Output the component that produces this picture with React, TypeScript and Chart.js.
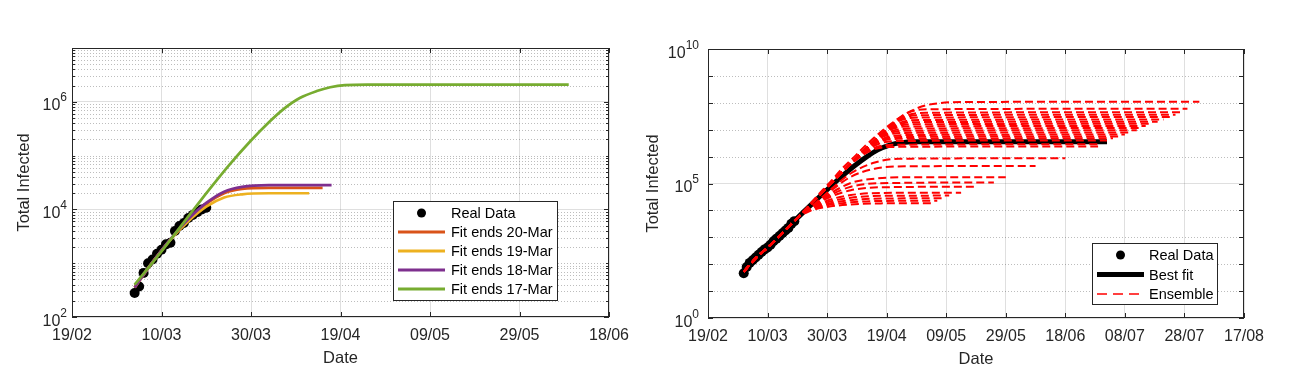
import React, { useEffect, useRef } from 'react';
import { Chart, registerables } from 'chart.js';

Chart.register(...registerables);

type Pt = [number, number];

const FONT = '"Liberation Sans", Arial, Helvetica, sans-serif';
const AXIS_COLOR = '#262626';
const GRID_COLOR = 'rgba(38,38,38,0.15)';
const MINOR_GRID_COLOR = 'rgba(38,38,38,0.30)';

// ---------------- Left panel (values; curves given as [day, log10(value)]) ----------------
const leftXTickDays = [0, 20, 40, 60, 80, 100, 120];
const leftXTickLabels = ['19/02', '10/03', '30/03', '19/04', '09/05', '29/05', '18/06'];
const leftYLabelExponents = [2, 4, 6];
const leftRealDays = [14, 15, 16, 17, 18, 19, 20, 21, 22, 23, 24, 25, 26, 27, 28, 29, 30];
const leftRealValues = [280, 370, 660, 1000, 1170, 1500, 1780, 2240, 2400, 3960, 4900, 5600, 6900, 7900, 8900, 10000, 10700];
const leftFitLabels = ['Fit ends 20-Mar', 'Fit ends 19-Mar', 'Fit ends 18-Mar', 'Fit ends 17-Mar'];
const leftFitColors = ['#D95319', '#EDB120', '#7E2F8E', '#77AC30'];
const fit20MarLog10: Pt[] = [[14, 2.55], [18, 3.02], [22, 3.44], [26, 3.8], [30, 4.1], [34, 4.3], [38, 4.38], [44, 4.4], [56, 4.4]];
const fit19MarLog10: Pt[] = [[14, 2.55], [18, 3.02], [22, 3.44], [26, 3.78], [30, 4.05], [34, 4.22], [38, 4.28], [44, 4.3], [53, 4.3]];
const fit18MarLog10: Pt[] = [[14, 2.55], [18, 3.02], [22, 3.45], [26, 3.82], [30, 4.12], [34, 4.33], [38, 4.42], [44, 4.45], [58, 4.45]];
const fit17MarLog10: Pt[] = [[14, 2.6], [20, 3.22], [28.6, 4.15], [35.3, 4.84], [40, 5.28], [44, 5.62], [47.2, 5.86], [50.9, 6.07], [54.7, 6.2], [57.7, 6.27], [61, 6.31], [66, 6.32], [111, 6.32]];

// ---------------- Right panel ----------------
const rightXTickDays = [0, 20, 40, 60, 80, 100, 120, 140, 160, 180];
const rightXTickLabels = ['19/02', '10/03', '30/03', '19/04', '09/05', '29/05', '18/06', '08/07', '28/07', '17/08'];
const rightYLabelExponents = [0, 5, 10];
const rightRealDays = [12, 13, 14, 15, 16, 17, 18, 19, 20, 21, 22, 23, 24, 25, 26, 27, 28, 29];
const rightRealValues = [46, 79, 112, 141, 178, 224, 282, 355, 417, 525, 708, 891, 1122, 1413, 1778, 2239, 3162, 3981];
const rightLegendLabels = ['Real Data', 'Best fit', 'Ensemble'];
const bestFitLog10: Pt[] = [[12, 1.7], [16, 2.22], [20, 2.62], [24, 3.05], [28, 3.5], [30, 3.72], [33, 4.04], [37, 4.46], [41, 4.87], [45, 5.27], [49, 5.64], [53, 5.97], [57, 6.25], [61, 6.43], [65, 6.52], [70, 6.55], [134, 6.55]];
const ensembleTrunkLog10: Pt[] = [[12, 1.72], [16, 2.22], [20, 2.62], [24, 3.05], [28, 3.5], [30, 3.72]];
const ensembleBranchesLog10: Pt[][] = [
  [[34, 3.97], [40, 4.13], [48, 4.22], [58, 4.26], [75, 4.27]],
  [[34, 3.99], [40, 4.19], [48, 4.3], [58, 4.35], [77, 4.36]],
  [[34, 4.0], [40, 4.24], [48, 4.38], [58, 4.44], [79, 4.45]],
  [[34, 4.01], [40, 4.3], [48, 4.47], [58, 4.54], [81, 4.55]],
  [[34, 4.02], [40, 4.36], [48, 4.57], [58, 4.65], [85, 4.66]],
  [[34, 4.03], [40, 4.45], [48, 4.75], [58, 4.86], [90, 4.88]],
  [[34, 4.04], [40, 4.5], [48, 4.88], [58, 5.01], [96, 5.04]],
  [[34, 4.05], [40, 4.55], [48, 5.02], [56, 5.18], [66, 5.23], [100, 5.23]],
  [[34, 4.05], [40, 4.62], [48, 5.25], [56, 5.55], [66, 5.64], [110, 5.65]],
  [[34, 4.05], [40, 4.66], [48, 5.38], [56, 5.78], [64, 5.92], [120, 5.94]],
  [[49, 5.81], [55, 6.24], [62, 6.36], [131, 6.38]],
  [[50, 5.92], [56, 6.33], [63, 6.44], [132, 6.46]],
  [[51, 6.03], [57, 6.46], [64, 6.58], [134, 6.6]],
  [[51, 6.03], [57, 6.53], [64, 6.66], [136, 6.68]],
  [[52, 6.14], [58, 6.6], [65, 6.73], [138, 6.75]],
  [[53, 6.25], [59, 6.68], [66, 6.8], [140, 6.82]],
  [[53, 6.25], [59, 6.75], [66, 6.88], [142, 6.9]],
  [[54, 6.36], [60, 6.83], [67, 6.96], [144, 6.98]],
  [[55, 6.47], [61, 6.92], [68, 7.04], [145, 7.06]],
  [[55, 6.47], [61, 6.99], [68, 7.12], [147, 7.14]],
  [[56, 6.58], [62, 7.07], [69, 7.2], [149, 7.22]],
  [[57, 6.69], [63, 7.15], [70, 7.28], [151, 7.3]],
  [[58, 6.8], [64, 7.24], [71, 7.36], [153, 7.38]],
  [[58, 6.8], [64, 7.32], [71, 7.45], [156, 7.47]],
  [[59, 6.91], [65, 7.41], [72, 7.54], [157, 7.56]],
  [[60, 7.02], [66, 7.5], [73, 7.63], [159, 7.65]],
  [[61, 7.13], [67, 7.62], [74, 7.76], [161, 7.78]],
  [[33, 4.08], [37, 4.58], [41, 5.05], [45, 5.55], [49, 5.98], [53, 6.42], [57, 6.82], [61, 7.18], [65, 7.5], [69, 7.74], [73, 7.9], [78, 7.99], [85, 8.03], [165, 8.04]],
];

// axis structure helpers
const leftYMinorGrid: number[] = [];
for (let e = 2; e <= 6; e++) for (let m = 2; m <= 9; m++) leftYMinorGrid.push(m * Math.pow(10, e));
leftYMinorGrid.push(1e3, 1e5);
const rightYMinorGrid = [1e1, 1e2, 1e3, 1e4, 1e6, 1e7, 1e8, 1e9];
const rightYDecades = [1, 1e1, 1e2, 1e3, 1e4, 1e5, 1e6, 1e7, 1e8, 1e9, 1e10];

const fromLog = (pts: Pt[]) => pts.map(([d, e]) => ({ x: d, y: Math.pow(10, e) }));

type LegendItem = { label: string; kind: 'dot' | 'line'; color: string; width?: number; dash?: number[] };
type PanelCfg = {
  yMinorGrid: number[];
  yTickMajor: number[];
  yTickMinor: number[];
  xTicks: number[];
  yLabelExps: number[];
  labelGap: number;
  legend: { x: number; y: number; w: number; h: number; rowStart: number; rowStep: number; sx0: number; sx1: number; tx: number; items: LegendItem[] };
};

function makePanelPlugin(cfg: PanelCfg) {
  return {
    id: 'panelDecor',
    beforeDatasetsDraw(chart: any) {
      const { ctx, chartArea: a, scales } = chart;
      ctx.save();
      ctx.beginPath();
      ctx.rect(a.left, a.top, a.right - a.left, a.bottom - a.top);
      ctx.clip();
      ctx.strokeStyle = MINOR_GRID_COLOR;
      ctx.lineWidth = 1;
      ctx.setLineDash([1, 2]);
      for (const v of cfg.yMinorGrid) {
        const py = Math.round(scales.y.getPixelForValue(v)) + 0.5;
        ctx.beginPath();
        ctx.moveTo(a.left, py);
        ctx.lineTo(a.right, py);
        ctx.stroke();
      }
      ctx.restore();
    },
    afterDatasetsDraw(chart: any) {
      const { ctx, chartArea: a, scales } = chart;
      ctx.save();
      ctx.strokeStyle = AXIS_COLOR;
      ctx.lineWidth = 1;
      ctx.setLineDash([]);
      ctx.beginPath();
      for (const v of cfg.xTicks) {
        const px = Math.round(scales.x.getPixelForValue(v)) + 0.5;
        ctx.moveTo(px, a.bottom);
        ctx.lineTo(px, a.bottom - 5);
        ctx.moveTo(px, a.top);
        ctx.lineTo(px, a.top + 5);
      }
      for (const v of cfg.yTickMajor) {
        const py = Math.round(scales.y.getPixelForValue(v)) + 0.5;
        ctx.moveTo(a.left, py);
        ctx.lineTo(a.left + 5, py);
        ctx.moveTo(a.right, py);
        ctx.lineTo(a.right - 5, py);
      }
      for (const v of cfg.yTickMinor) {
        const py = Math.round(scales.y.getPixelForValue(v)) + 0.5;
        ctx.moveTo(a.left, py);
        ctx.lineTo(a.left + 3, py);
        ctx.moveTo(a.right, py);
        ctx.lineTo(a.right - 3, py);
      }
      ctx.stroke();
      ctx.strokeRect(Math.round(a.left) + 0.5, Math.round(a.top) + 0.5, Math.round(a.right - a.left) - 1, Math.round(a.bottom - a.top) - 1);
      const L = cfg.legend;
      ctx.fillStyle = '#ffffff';
      ctx.fillRect(L.x, L.y, L.w, L.h);
      ctx.strokeStyle = AXIS_COLOR;
      ctx.lineWidth = 1;
      ctx.strokeRect(L.x + 0.5, L.y + 0.5, L.w, L.h);
      ctx.font = `14.5px ${FONT}`;
      ctx.textBaseline = 'middle';
      ctx.textAlign = 'left';
      L.items.forEach((it, i) => {
        const cy = L.y + L.rowStart + i * L.rowStep;
        if (it.kind === 'dot') {
          ctx.fillStyle = it.color;
          ctx.beginPath();
          ctx.arc((L.sx0 + L.sx1) / 2, cy, 4.5, 0, Math.PI * 2);
          ctx.fill();
        } else {
          ctx.strokeStyle = it.color;
          ctx.lineWidth = it.width || 2;
          ctx.setLineDash(it.dash || []);
          ctx.beginPath();
          ctx.moveTo(L.sx0, cy);
          ctx.lineTo(L.sx1, cy);
          ctx.stroke();
          ctx.setLineDash([]);
        }
        ctx.fillStyle = '#000000';
        ctx.fillText(it.label, L.tx, cy + 1);
      });
      ctx.restore();
    },
    afterDraw(chart: any) {
      const { ctx, chartArea: a, scales } = chart;
      ctx.save();
      ctx.fillStyle = AXIS_COLOR;
      ctx.textAlign = 'left';
      ctx.textBaseline = 'alphabetic';
      const right = a.left - cfg.labelGap;
      for (const e of cfg.yLabelExps) {
        const py = scales.y.getPixelForValue(Math.pow(10, e));
        const es = String(e);
        ctx.font = `12px ${FONT}`;
        const ew = ctx.measureText(es).width;
        ctx.fillText(es, right - ew, py - 0.5);
        ctx.font = `16px ${FONT}`;
        const bw = ctx.measureText('10').width;
        ctx.fillText('10', right - ew - bw, py + 8.5);
      }
      ctx.restore();
    },
  };
}

function xScale(days: number[], labels: string[], max: number, titlePadBottom: number, height: number) {
  return {
    type: 'linear' as const,
    min: 0,
    max,
    afterBuildTicks: (s: any) => {
      s.ticks = days.map((v) => ({ value: v }));
    },
    afterFit: (s: any) => {
      s.height = height;
      s.paddingLeft = 0;
      s.paddingRight = 0;
    },
    ticks: {
      autoSkip: false,
      maxRotation: 0,
      minRotation: 0,
      padding: 9,
      color: AXIS_COLOR,
      font: { family: FONT, size: 16 },
      callback: (v: any) => {
        const i = days.indexOf(Number(v));
        return i >= 0 ? labels[i] : '';
      },
    },
    grid: { color: GRID_COLOR, drawTicks: false, lineWidth: 1 },
    border: { display: false },
    title: { display: true, text: 'Date', color: AXIS_COLOR, font: { family: FONT, size: 16.5 }, padding: { top: 0, bottom: titlePadBottom } },
  };
}

function yScale(min: number, max: number, exps: number[], width: number, titlePadTop: number) {
  return {
    type: 'logarithmic' as const,
    min,
    max,
    afterBuildTicks: (s: any) => {
      s.ticks = exps.map((e) => ({ value: Math.pow(10, e) }));
    },
    afterFit: (s: any) => {
      s.width = width;
      s.paddingTop = 0;
      s.paddingBottom = 0;
    },
    ticks: { display: false },
    grid: { color: GRID_COLOR, drawTicks: false, lineWidth: 1 },
    border: { display: false },
    title: { display: true, text: 'Total Infected', color: AXIS_COLOR, font: { family: FONT, size: 16.5 }, padding: { top: titlePadTop, bottom: 0 } },
  };
}

function buildLeft(): any {
  const fits = [fit20MarLog10, fit19MarLog10, fit18MarLog10, fit17MarLog10];
  const datasets: any[] = [
    {
      label: 'Real Data',
      data: leftRealDays.map((d, i) => ({ x: d, y: leftRealValues[i] })),
      showLine: false,
      pointRadius: 5,
      pointBackgroundColor: '#000',
      pointBorderWidth: 0,
      order: 5,
    },
    ...fits.map((f, i) => ({
      label: leftFitLabels[i],
      data: fromLog(f),
      borderColor: leftFitColors[i],
      borderWidth: 2.7,
      pointRadius: 0,
      cubicInterpolationMode: 'monotone',
      fill: false,
      order: 4 - i,
    })),
  ];
  const plugin = makePanelPlugin({
    yMinorGrid: leftYMinorGrid,
    yTickMajor: leftYLabelExponents.map((e) => Math.pow(10, e)),
    yTickMinor: leftYMinorGrid,
    xTicks: leftXTickDays,
    yLabelExps: leftYLabelExponents,
    labelGap: 5,
    legend: {
      x: 393, y: 201, w: 164, h: 99, rowStart: 12, rowStep: 19, sx0: 398, sx1: 445, tx: 451,
      items: [
        { label: 'Real Data', kind: 'dot', color: '#000' },
        ...leftFitLabels.map((l, i) => ({ label: l, kind: 'line' as const, color: leftFitColors[i], width: 3 })),
      ],
    },
  });
  return {
    type: 'line',
    data: { datasets },
    options: {
      responsive: false,
      animation: false,
      events: [],
      layout: { padding: { left: 0, top: 48, right: 41, bottom: 0 } },
      plugins: { legend: { display: false }, tooltip: { enabled: false } },
      scales: {
        x: xScale(leftXTickDays, leftXTickLabels, 120, 13, 64),
        y: yScale(1e2, 1e7, leftYLabelExponents, 72, 15),
      },
    },
    plugins: [plugin],
  };
}

function buildRight(): any {
  const datasets: any[] = [
    {
      label: 'Real Data',
      data: rightRealDays.map((d, i) => ({ x: d, y: rightRealValues[i] })),
      showLine: false,
      pointRadius: 5,
      pointBackgroundColor: '#000',
      pointBorderWidth: 0,
      order: 2,
    },
    {
      label: 'Best fit',
      data: fromLog(bestFitLog10),
      borderColor: '#000',
      borderWidth: 5,
      pointRadius: 0,
      cubicInterpolationMode: 'monotone',
      order: 1,
    },
    ...ensembleBranchesLog10.map((b, i) => ({
      label: 'Ensemble ' + (i + 1),
      data: fromLog([...ensembleTrunkLog10, ...b]),
      borderColor: '#ff0000',
      borderWidth: 2,
      borderDash: [8, 4],
      pointRadius: 0,
      cubicInterpolationMode: 'monotone',
      order: 0,
    })),
  ];
  const plugin = makePanelPlugin({
    yMinorGrid: rightYMinorGrid,
    yTickMajor: rightYDecades,
    yTickMinor: [],
    xTicks: rightXTickDays,
    yLabelExps: rightYLabelExponents,
    labelGap: 9,
    legend: {
      x: 462, y: 243, w: 125, h: 61, rowStart: 12, rowStep: 19.5, sx0: 467, sx1: 514, tx: 519,
      items: [
        { label: rightLegendLabels[0], kind: 'dot', color: '#000' },
        { label: rightLegendLabels[1], kind: 'line', color: '#000', width: 5 },
        { label: rightLegendLabels[2], kind: 'line', color: '#ff0000', width: 1.5, dash: [10, 6] },
      ],
    },
  });
  return {
    type: 'line',
    data: { datasets },
    options: {
      responsive: false,
      animation: false,
      events: [],
      layout: { padding: { left: 0, top: 49, right: 56, bottom: 0 } },
      plugins: { legend: { display: false }, tooltip: { enabled: false } },
      scales: {
        x: xScale(rightXTickDays, rightXTickLabels, 180, 12, 63),
        y: yScale(1, 1e10, rightYLabelExponents, 78, 14),
      },
    },
    plugins: [plugin],
  };
}

function ChartCanvas({ build, width, height, left }: { build: () => any; width: number; height: number; left: number }) {
  const ref = useRef<HTMLCanvasElement>(null);
  useEffect(() => {
    if (!ref.current) return;
    const chart = new Chart(ref.current, build());
    return () => chart.destroy();
  }, []);
  return (
    <canvas
      ref={ref}
      width={width}
      height={height}
      style={{ position: 'absolute', left, top: 0, width, height }}
    />
  );
}

export default function App() {
  return (
    <div style={{ position: 'fixed', left: 0, top: 0, width: 1300, height: 381, background: '#ffffff', overflow: 'hidden' }}>
      <ChartCanvas build={buildLeft} width={650} height={381} left={0} />
      <ChartCanvas build={buildRight} width={670} height={381} left={630} />
    </div>
  );
}
